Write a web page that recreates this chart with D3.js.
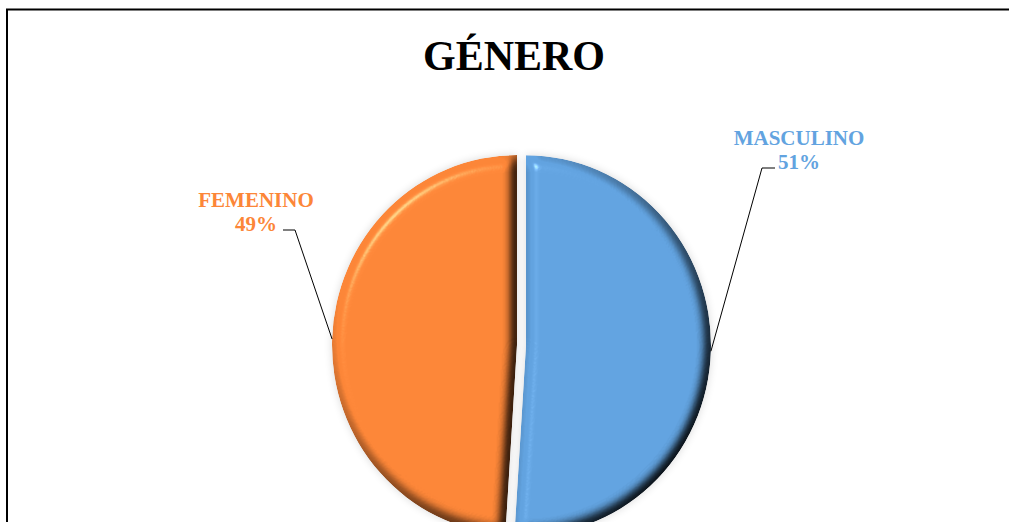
<!DOCTYPE html>
<html>
<head>
<meta charset="utf-8">
<script src="https://cdn.jsdelivr.net/npm/d3@7"></script>
<style>
  html, body { margin: 0; padding: 0; background: #fff; }
  svg { display: block; }
  .lbl { font-family: "Liberation Serif", "Times New Roman", serif; font-weight: bold; }
</style>
</head>
<body>
<svg id="chart"></svg>
<script>
// data
const categories = ["MASCULINO", "FEMENINO"];
const values = [51, 49];
const colors = ["#62A3E0", "#FC8638"];
const title = "GÉNERO";

const width = 1009, height = 522;

const svg = d3.select("#chart")
    .attr("width", width)
    .attr("height", height);

// frame of the chart area (runs off right and bottom)
svg.append("rect")
    .attr("x", 7).attr("y", 9.5)
    .attr("width", 1100).attr("height", 600)
    .attr("fill", "none")
    .attr("stroke", "#000")
    .attr("stroke-width", 2);

svg.append("text")
    .attr("class", "lbl")
    .attr("x", 514).attr("y", 70)
    .attr("text-anchor", "middle")
    .attr("font-size", 42)
    .attr("fill", "#000")
    .text(title);

// bevel + shadow filters
const defs = svg.append("defs");

const bevel = defs.append("filter")
    .attr("id", "bevel")
    .attr("x", "-5%").attr("y", "-5%")
    .attr("width", "110%").attr("height", "110%")
    .attr("color-interpolation-filters", "sRGB");
bevel.append("feGaussianBlur")
    .attr("in", "SourceAlpha").attr("stdDeviation", 6).attr("result", "b");
bevel.append("feDiffuseLighting")
    .attr("in", "b").attr("surfaceScale", 10).attr("diffuseConstant", 1.16)
    .attr("lighting-color", "#fff").attr("result", "d")
    .append("feDistantLight").attr("azimuth", 225).attr("elevation", 60);
bevel.append("feComposite")
    .attr("in", "SourceGraphic").attr("in2", "d")
    .attr("operator", "arithmetic").attr("k1", 1).attr("result", "m");
bevel.append("feSpecularLighting")
    .attr("in", "b").attr("surfaceScale", 10).attr("specularConstant", 0.6)
    .attr("specularExponent", 60).attr("lighting-color", "#fff").attr("result", "s")
    .append("feDistantLight").attr("azimuth", 225).attr("elevation", 45);
bevel.append("feComposite")
    .attr("in", "s").attr("in2", "SourceAlpha").attr("operator", "in").attr("result", "s2");
bevel.append("feComposite")
    .attr("in", "m").attr("in2", "s2")
    .attr("operator", "arithmetic").attr("k2", 1).attr("k3", 0.5).attr("result", "lit");
bevel.append("feComposite")
    .attr("in", "lit").attr("in2", "SourceAlpha").attr("operator", "in");

defs.append("filter")
    .attr("id", "shadow")
    .attr("x", "-10%").attr("y", "-10%")
    .attr("width", "120%").attr("height", "120%")
    .append("feGaussianBlur").attr("stdDeviation", 4);

// pie geometry
const cx = 517, cy = 345, r = 185, sy = 190 / 185, explode = 9;

const pie = d3.pie().sort(null).value(d => d)(values);
const arc = d3.arc().innerRadius(0).outerRadius(r);

const offset = (d, i) => {
    const e = i === 0 ? explode : 0;
    const a = (d.startAngle + d.endAngle) / 2;
    return [e * Math.sin(a), -e * Math.cos(a)];
};

const g = svg.append("g")
    .attr("transform", `translate(${cx},${cy}) scale(1,${sy})`);

g.selectAll("path.shadow")
    .data(pie)
    .join("path")
        .attr("class", "shadow")
        .attr("d", arc)
        .attr("transform", (d, i) => `translate(${offset(d, i)})`)
        .attr("fill", "#000")
        .attr("opacity", 0.14)
        .attr("filter", "url(#shadow)");

g.selectAll("path.slice")
    .data(pie)
    .join("path")
        .attr("class", "slice")
        .attr("d", arc)
        .attr("transform", (d, i) => `translate(${offset(d, i)})`)
        .attr("fill", (d, i) => colors[i])
        .attr("filter", "url(#bevel)");

// data labels with leader lines
const labelPos = [[799, 145], [256, 207]];
const elbows = [[762, 168, 775], [295, 230, 283]];

const edgePoint = (d, i) => {
    const a = (d.startAngle + d.endAngle) / 2;
    const [ox, oy] = offset(d, i);
    return [cx + ox + r * Math.sin(a), cy + (oy - r * Math.cos(a)) * sy];
};

svg.selectAll("path.leader")
    .data(pie)
    .join("path")
        .attr("class", "leader")
        .attr("d", (d, i) => {
            const p = edgePoint(d, i);
            const [ex, ey, hx] = elbows[i];
            return d3.line()([p, [ex, ey], [hx, ey]]);
        })
        .attr("fill", "none")
        .attr("stroke", "#000")
        .attr("stroke-width", 1);

const total = d3.sum(values);
const labels = svg.selectAll("text.dl")
    .data(pie)
    .join("text")
        .attr("class", "lbl dl")
        .attr("text-anchor", "middle")
        .attr("font-size", 21)
        .attr("fill", (d, i) => colors[i]);

labels.append("tspan")
    .attr("x", (d, i) => labelPos[i][0])
    .attr("y", (d, i) => labelPos[i][1])
    .text((d, i) => categories[i]);

labels.append("tspan")
    .attr("x", (d, i) => labelPos[i][0])
    .attr("y", (d, i) => labelPos[i][1] + 24)
    .text(d => `${Math.round(d.value / total * 100)}%`);
</script>
</body>
</html>
